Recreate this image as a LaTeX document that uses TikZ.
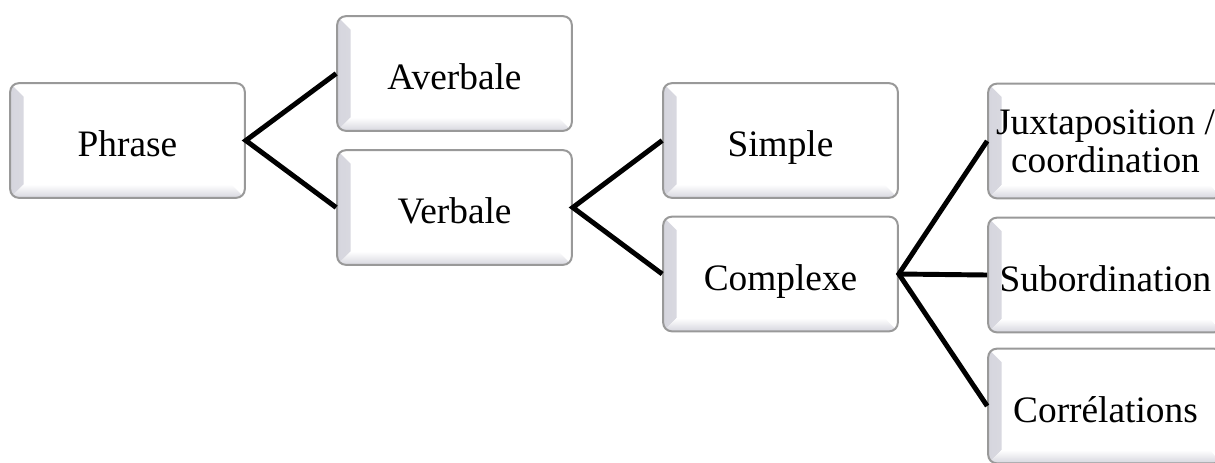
\documentclass[tikz,border=0pt]{standalone}
\usepackage{fontspec}
\setmainfont{Liberation Serif}
\definecolor{bevelgray}{RGB}{214,214,222}
\begin{document}
\begin{tikzpicture}[x=0.75pt, y=-0.75pt,
  bevel/.style={draw=black!40, line width=1.5pt, rounded corners=6.5pt, fill=white,
    minimum width=176pt, minimum height=86pt, inner sep=0pt, align=center,
    font=\fontsize{28}{28}\selectfont, text height=30pt, text depth=6pt,
    path picture={
      \shade[sharp corners, left color=bevelgray, right color=white]
        (path picture bounding box.north west) -- ++(10pt,-10pt)
        -- ([shift={(10pt,10pt)}]path picture bounding box.south west)
        -- (path picture bounding box.south west) -- cycle;
      \shade[sharp corners, bottom color=bevelgray, top color=white]
        (path picture bounding box.south west) -- ++(10pt,10pt)
        -- ([shift={(-10pt,10pt)}]path picture bounding box.south east)
        -- (path picture bounding box.south east) -- cycle;
    }},
  link/.style={line width=3.7pt}]
\useasboundingbox (0,0) rectangle (1215,462);
\clip (0,0) rectangle (1215,462);

\node[bevel] (phrase) at (127.5,140.5) {Phrase};
\node[bevel] (averbale) at (454.5,73.5) {Averbale};
\node[bevel] (verbale) at (454.5,207.5) {Verbale};
\node[bevel] (simple) at (780.5,140.5) {Simple};
\node[bevel] (complexe) at (780.5,274) {Complexe};
\node[bevel, text height=, text depth=-5pt] (juxta) at (1105.5,141) {Juxtaposition /\\coordination};
\node[bevel] (subord) at (1105.5,275) {Subordination};
\node[bevel] (correl) at (1105.5,406) {Corrélations};

% fans between the levels
\draw[link] (averbale.west) -- (phrase.east) -- (verbale.west);
\draw[link] (simple.west) -- (verbale.east) -- (complexe.west);
\draw[link] (juxta.west) -- (complexe.east) -- (correl.west);
\draw[link] (complexe.east) -- (subord.west);
\end{tikzpicture}
\end{document}
